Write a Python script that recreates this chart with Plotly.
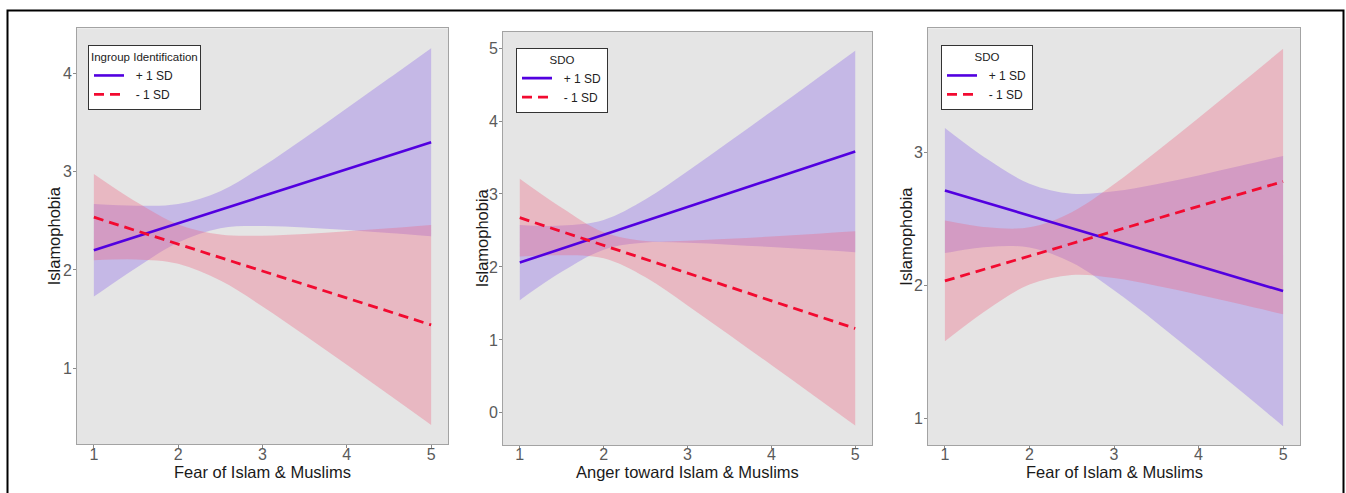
import plotly.graph_objects as go

# ---------------- data ----------------
X_GRID = [1, 1.5, 2, 2.5, 3, 3.5, 4, 4.5, 5]
X_LINE = [1, 5]
X_TICKS = [1, 2, 3, 4, 5]

SERIES_NAMES = ["+ 1 SD", "- 1 SD"]
LEGEND_TITLES = ["Ingroup Identification", "SDO", "SDO"]
X_TITLES = ["Fear of Islam & Muslims", "Anger toward Islam & Muslims", "Fear of Islam & Muslims"]
Y_TITLE = "Islamophobia"

# Panel 1
p1_hi_line = [2.20, 3.30]
p1_lo_line = [2.537, 1.441]
p1_hi_upper = [2.671, 2.654, 2.670, 2.800, 3.053, 3.343, 3.644, 3.949, 4.256]
p1_hi_lower = [1.729, 2.021, 2.280, 2.425, 2.447, 2.432, 2.406, 2.376, 2.344]
p1_lo_upper = [2.976, 2.693, 2.463, 2.360, 2.349, 2.367, 2.394, 2.425, 2.458]
p1_lo_lower = [2.098, 2.107, 2.063, 1.892, 1.629, 1.337, 1.036, 0.731, 0.424]
p1_yticks = [1, 2, 3, 4]

# Panel 2
p2_hi_line = [2.06, 3.582]
p2_lo_line = [2.675, 1.157]
p2_hi_upper = [2.575, 2.567, 2.645, 2.928, 3.311, 3.718, 4.130, 4.545, 4.962]
p2_hi_lower = [1.545, 1.933, 2.237, 2.334, 2.331, 2.306, 2.274, 2.239, 2.202]
p2_lo_upper = [3.208, 2.810, 2.474, 2.354, 2.359, 2.385, 2.418, 2.452, 2.488]
p2_lo_lower = [2.142, 2.160, 2.118, 1.858, 1.473, 1.069, 0.656, 0.242, -0.174]
p2_yticks = [0, 1, 2, 3, 4, 5]

# Panel 3
p3_hi_line = [2.712, 1.956]
p3_lo_line = [2.033, 2.779]
p3_hi_upper = [3.182, 2.948, 2.763, 2.688, 2.706, 2.759, 2.825, 2.897, 2.971]
p3_hi_lower = [2.242, 2.288, 2.283, 2.170, 1.962, 1.721, 1.465, 1.205, 0.941]
p3_lo_upper = [2.487, 2.436, 2.435, 2.549, 2.758, 3.002, 3.257, 3.515, 3.776]
p3_lo_lower = [1.579, 1.816, 2.005, 2.077, 2.054, 1.996, 1.929, 1.857, 1.782]
p3_yticks = [1, 2, 3]

# ---------------- styling / layout ----------------
W, H = 1346, 493
FONT = "Liberation Sans, Arial, sans-serif"
HI_LINE = "#5200e0"
LO_LINE = "#f20a30"
HI_FILL = "rgba(138,100,232,0.35)"
LO_FILL = "rgba(238,100,129,0.35)"
NBSP = "\u00a0"

panels = [
    dict(hi_line=p1_hi_line, lo_line=p1_lo_line, hi_up=p1_hi_upper, hi_lo=p1_hi_lower,
         lo_up=p1_lo_upper, lo_lo=p1_lo_lower, yticks=p1_yticks, yrange=[0.227, 4.458],
         px=(77, 448), py=(28.3, 444.3), leg=(88, 45), ytitle_x=54),
    dict(hi_line=p2_hi_line, lo_line=p2_lo_line, hi_up=p2_hi_upper, hi_lo=p2_hi_lower,
         lo_up=p2_lo_upper, lo_lo=p2_lo_lower, yticks=p2_yticks, yrange=[-0.44, 5.224],
         px=(503, 872), py=(31.7, 445), leg=(516, 47.7), ytitle_x=482),
    dict(hi_line=p3_hi_line, lo_line=p3_lo_line, hi_up=p3_hi_upper, hi_lo=p3_hi_lower,
         lo_up=p3_lo_upper, lo_lo=p3_lo_lower, yticks=p3_yticks, yrange=[0.80, 3.93],
         px=(928, 1300), py=(28.3, 445), leg=(941, 45), ytitle_x=906),
]

fig = go.Figure()
layout = dict(
    width=W, height=H,
    margin=dict(l=0, r=0, t=0, b=0),
    paper_bgcolor="white",
    plot_bgcolor="#e5e5e5",
    font=dict(family=FONT),
    showlegend=True,
    annotations=[],
    shapes=[],
)

for i, p in enumerate(panels):
    sfx = "" if i == 0 else str(i + 1)
    xa, ya = "x" + sfx, "y" + sfx
    leg = "legend" if i == 0 else "legend" + str(i + 1)

    # confidence bands
    for lo, up, fill in [(p["hi_lo"], p["hi_up"], HI_FILL), (p["lo_lo"], p["lo_up"], LO_FILL)]:
        fig.add_trace(go.Scatter(x=X_GRID, y=lo, mode="lines", xaxis=xa, yaxis=ya,
                                 line=dict(width=0, shape="spline", color=fill),
                                 showlegend=False, hoverinfo="skip"))
        fig.add_trace(go.Scatter(x=X_GRID, y=up, mode="lines", xaxis=xa, yaxis=ya,
                                 line=dict(width=0, shape="spline", color=fill),
                                 fill="tonexty", fillcolor=fill,
                                 showlegend=False, hoverinfo="skip"))
    # regression lines
    fig.add_trace(go.Scatter(x=X_LINE, y=p["hi_line"], mode="lines", xaxis=xa, yaxis=ya,
                             name=NBSP * 2 + SERIES_NAMES[0], legend=leg,
                             line=dict(color=HI_LINE, width=2.6)))
    fig.add_trace(go.Scatter(x=X_LINE, y=p["lo_line"], mode="lines", xaxis=xa, yaxis=ya,
                             name=NBSP * 2 + SERIES_NAMES[1], legend=leg,
                             line=dict(color=LO_LINE, width=2.8, dash="10px,6px")))

    x0, x1 = p["px"]
    y0, y1 = p["py"]
    common = dict(showgrid=False, zeroline=False, showline=True, mirror=True,
                  linecolor="#a3a3a3", linewidth=1, ticks="outside", ticklen=3,
                  tickwidth=1, tickcolor="#8a8a8a",
                  tickfont=dict(size=16, color="#5a5a5a", family=FONT))
    layout["xaxis" + sfx] = dict(common, domain=[x0 / W, x1 / W], anchor=ya,
                                 range=[0.8, 5.2], tickvals=X_TICKS, ticklabelstandoff=-8)
    layout["yaxis" + sfx] = dict(common, domain=[1 - y1 / H, 1 - y0 / H], anchor=xa,
                                 range=p["yrange"], tickvals=p["yticks"], ticklabelstandoff=-2)

    lx, ly = p["leg"]
    layout[leg] = dict(
        title=dict(text=LEGEND_TITLES[i], side="top center" if i > 0 else "top",
                   font=dict(size=11.5, color="#222", family=FONT)),
        x=lx / W, y=1 - ly / H, xanchor="left", yanchor="top",
        xref="paper", yref="paper",
        bgcolor="white", bordercolor="#333333", borderwidth=1,
        font=dict(size=12, color="#222", family=FONT),
        itemwidth=30,
        traceorder="normal",
    )

    # axis titles
    layout["annotations"].append(dict(
        text=X_TITLES[i], xref="paper", yref="paper",
        x=(x0 + x1) / 2 / W, y=1 - 471.5 / H, xanchor="center", yanchor="middle",
        showarrow=False, font=dict(size=16.5, color="#1a1a1a", family=FONT)))
    layout["annotations"].append(dict(
        text=Y_TITLE, xref="paper", yref="paper", textangle=-90,
        x=p["ytitle_x"] / W, y=1 - (y0 + y1) / 2 / H, xanchor="center", yanchor="middle",
        showarrow=False, font=dict(size=16.5, color="#1a1a1a", family=FONT)))

# outer black frame
layout["shapes"].append(dict(type="rect", xref="paper", yref="paper",
                             x0=7.5 / W, x1=1343.5 / W, y0=-0.1, y1=1 - 10.5 / H,
                             line=dict(color="black", width=2), fillcolor="rgba(0,0,0,0)"))

fig.update_layout(**layout)
fig.write_html(
    "out.html",
    config={"displayModeBar": False},
    post_script="document.body.style.margin='0px';document.body.style.overflow='hidden';",
)
